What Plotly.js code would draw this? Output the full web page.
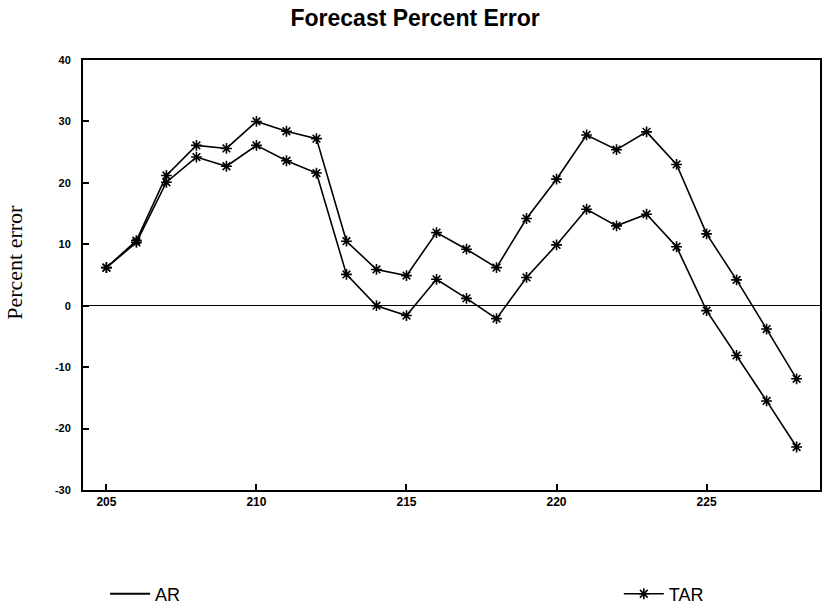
<!DOCTYPE html>
<html>
<head>
<meta charset="utf-8">
<script src="https://cdn.plot.ly/plotly-3.0.1.min.js"></script>
<style>html,body{margin:0;padding:0;background:#fff;}#chart{width:822px;height:605px;}</style>
</head>
<body>
<div id="chart"></div>
<script>
var periods = [205,206,207,208,209,210,211,212,213,214,215,216,217,218,219,220,221,222,223,224,225,226,227,228];
var arError  = [6.2,10.6,21.2,26.1,25.6,30.0,28.4,27.2,10.5,5.9,4.9,11.9,9.2,6.2,14.2,20.6,27.8,25.4,28.3,23.0,11.7,4.2,-3.8,-11.9];
var tarError = [6.2,10.3,20.1,24.2,22.7,26.1,23.6,21.6,5.1,0.0,-1.6,4.3,1.2,-2.1,4.6,9.9,15.7,13.0,14.9,9.6,-0.8,-8.1,-15.5,-23.0];
var yTicks = [-30,-20,-10,0,10,20,30,40];
var xTicks = [205,210,215,220,225];

var star = {symbol:'asterisk-open', size:9, color:'#000', line:{color:'#000', width:1.6}};
var traces = [
  {x:periods, y:arError, mode:'lines+markers', name:'AR', line:{color:'#000', width:1.6}, marker:star, showlegend:false, cliponaxis:false},
  {x:periods, y:tarError, mode:'lines+markers', name:'TAR', line:{color:'#000', width:1.6}, marker:star, showlegend:false, cliponaxis:false},
  {x:[null], y:[null], mode:'lines', name:'AR', line:{color:'#000', width:2}, legend:'legend'},
  {x:[null], y:[null], mode:'lines+markers', name:'TAR', line:{color:'#000', width:1.6}, marker:star, legend:'legend2'}
];
var legFont = {family:'Liberation Sans, Arial, sans-serif', size:18, color:'#000'};
var layout = {
  width:822, height:605,
  margin:{l:83, r:2, t:60, b:115, autoexpand:false},
  paper_bgcolor:'#fff', plot_bgcolor:'#fff',
  title:{text:'<b>Forecast Percent Error</b>', x:0.505, xanchor:'center', y:0.97, yanchor:'middle',
         font:{family:'Liberation Sans, Arial, sans-serif', size:23, color:'#000'}},
  xaxis:{range:[204.22,228.78], tickvals:xTicks, ticktext:xTicks.map(String), ticks:'inside', ticklen:6, tickwidth:2, tickcolor:'#000',
         showline:true, linecolor:'#000', linewidth:2, mirror:true, showgrid:false, zeroline:false, automargin:false,
         tickfont:{family:'Liberation Sans, Arial, sans-serif', size:12, color:'#000', weight:'bold'}},
  yaxis:{range:[-30,40], tickvals:yTicks, ticktext:yTicks.map(String), ticks:'inside', ticklen:6, tickwidth:2, tickcolor:'#000',
         showline:true, linecolor:'#000', linewidth:2, mirror:true, showgrid:false, automargin:false,
         zeroline:true, zerolinecolor:'#000', zerolinewidth:1, ticklabelstandoff:8,
         tickfont:{family:'Liberation Sans, Arial, sans-serif', size:11, color:'#000', weight:'bold'}},
  annotations:[{text:'Percent error', xref:'paper', yref:'paper', x:-0.094, y:0.53, xanchor:'center', yanchor:'middle',
                textangle:-90, showarrow:false, font:{family:'Liberation Serif, Times New Roman, serif', size:22, color:'#000'}}],
  legend:{x:0.030, y:-0.242, xanchor:'left', yanchor:'middle', font:legFont, bgcolor:'rgba(0,0,0,0)', itemwidth:40},
  legend2:{x:0.727, y:-0.242, xanchor:'left', yanchor:'middle', font:legFont, bgcolor:'rgba(0,0,0,0)', itemwidth:40},
  showlegend:true
};
Plotly.newPlot('chart', traces, layout, {displayModeBar:false, staticPlot:true});
</script>
</body>
</html>
